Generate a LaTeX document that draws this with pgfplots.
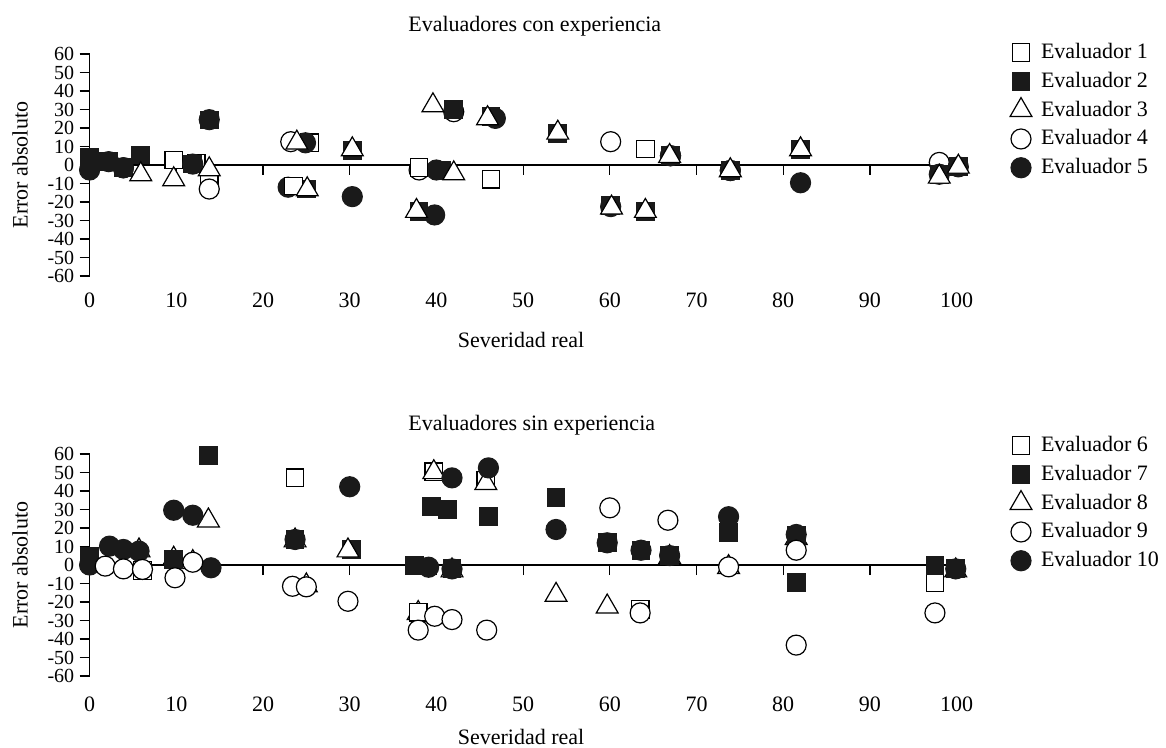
\documentclass[border=0pt]{standalone}
\usepackage{fontspec}
\setmainfont{Liberation Serif}
\usepackage{pgfplots}
\pgfplotsset{compat=1.18}
\definecolor{fk}{HTML}{1A1A1A}
\pgfplotsset{
  evalaxis/.style={
    scale only axis, width=433.5pt, height=111pt,
    xmin=0, xmax=100, ymin=-60, ymax=60,
    axis x line=middle, axis y line=left,
    x axis line style={-, line width=0.6pt},
    y axis line style={-, line width=0.6pt},
    tick style={black, line width=0.6pt},
    major tick length=5pt,
    tick align=outside,
    xtick={0,10,...,100},
    xticklabels={0,10,20,30,40,50,60,70,80,\raisebox{-1.5pt}{90},100},
    ytick={-60,-50,...,60},
    yticklabels={-60,-50,-40,-30,-20,-10,0,10,20,30,40,50,60},
    yticklabel style={font=\fontsize{10}{11}\selectfont, inner sep=2.5pt},
    hide obscured x ticks=false, hide obscured y ticks=false,
    clip=false,
    legend cell align=left,
    legend image code/.code={%
      \pgfpathrectangle{\pgfpoint{0pt}{-4pt}}{\pgfpoint{16pt}{8pt}}%
      \pgfusepath{use as bounding box}%
      \draw[##1] plot coordinates {(8pt,0pt)};},
    legend style={draw=none, fill=none, at={(axis description cs:1,1)}, anchor=north west,
      xshift=21pt, yshift=9.5pt, row sep=1.1pt, column sep=0pt,
      font=\fontsize{11}{13}\selectfont},
  },
  mOS/.style={only marks, mark=square*, mark size=4.4pt, mark options={fill=white, draw=black, line width=0.6pt}},
  mFS/.style={only marks, mark=square*, mark size=4.4pt, mark options={fill=fk, draw=fk, line width=0.6pt}},
  mT/.style={only marks, mark=triangle*, mark size=6.3pt, mark options={fill=white, draw=black, line width=0.6pt}},
  mOC/.style={only marks, mark=*, mark size=5pt, mark options={fill=white, draw=black, line width=0.6pt}},
  mFC/.style={only marks, mark=*, mark size=5pt, mark options={fill=fk, draw=fk, line width=0.6pt}},
}
\begin{document}
\fontsize{11}{13}\selectfont
\begin{tikzpicture}[font=\fontsize{11}{13}\selectfont]
\useasboundingbox (0,0) rectangle (583pt,-374pt);
% ---------------- top ----------------
\begin{axis}[evalaxis, at={(44.8pt,-138pt)}, anchor=south west,
  xticklabel style={yshift=-55pt}]
\addlegendimage{mOS}\addlegendentry{Evaluador 1}
\addlegendimage{mFS}\addlegendentry{Evaluador 2}
\addlegendimage{mT}\addlegendentry{Evaluador 3}
\addlegendimage{mOC}\addlegendentry{Evaluador 4}
\addlegendimage{mFC}\addlegendentry{Evaluador 5}
% Evaluador 1
\addplot[mOS, forget plot] coordinates {(0,3) (2.2,2) (3.9,-1.5) (5.9,5) (9.7,2.7) (12.3,1) (13.8,-10)
  (25.4,12) (30.3,8) (46.3,-7.7) (54,17) (64.1,8.6) (67,5) (82,8.5) (100.2,-1)};
% Evaluador 4
\addplot[mOC, forget plot] coordinates {(13.8,-13) (23.2,12.6) (38.0,-2.7) (42.0,28.8) (60.1,12.6) (98.0,1.4)
  (3.9,-1.5) (67,5) (73.9,-3)};
% Evaluador 2
\addplot[mFS, forget plot] coordinates {(0,4) (2.2,2) (3.9,-1.5) (5.9,5.4) (11.9,0.5) (13.8,24.3) (25.0,-13)
  (30.3,8) (38.0,-25.2) (40.6,-3) (42.0,30.1) (46.3,26) (54.0,17) (60.1,-22) (64.1,-25) (67.0,5)
  (73.9,-3) (82.0,8.5) (98.0,-5) (100.2,-1)};
% Evaluador 5
\addplot[mFC, forget plot] coordinates {(0,-2.7) (2.2,1.8) (3.9,-1.5) (11.9,0.5) (13.8,24.5) (22.9,-12)
  (24.9,12) (30.3,-17.1) (39.8,-27) (40.0,-2.7) (46.8,25.2) (60.1,-22.5) (67,5) (73.9,-3) (82.0,-9.6)
  (98,-5) (100.2,-1)};
% Evaluador 1 (front)
\addplot[mOS, forget plot] coordinates {(23.5,-11.4) (38.0,-1.4)};
% Evaluador 3
\addplot[mT, forget plot] coordinates {(5.9,-5.1) (9.7,-7.8) (13.8,-2.4) (23.9,12) (25.1,-13.2) (30.3,8.4)
  (37.7,-24.9) (39.6,32.2) (42.0,-4.6) (45.9,25.2) (54.0,17.4) (60.2,-23.1) (64.1,-24.9) (66.9,4.8)
  (73.9,-2.9) (82.0,8.4) (98.0,-6.4) (100.2,-1)};
\node[anchor=west] at (axis description cs:0,1) [xshift=155.5pt, yshift=14pt] {Evaluadores con experiencia};
\node[rotate=90] at (axis description cs:0,0.5) [yshift=34.8pt] {Error absoluto};
\node at (axis description cs:0.5,0) [yshift=-32pt, xshift=-1pt] {Severidad real};
\end{axis}
% ---------------- bottom ----------------
\begin{axis}[evalaxis, at={(44.8pt,-338pt)}, anchor=south west,
  xticklabel style={yshift=-57pt},
  legend style={yshift=3.5pt}]
\addlegendimage{mOS}\addlegendentry{Evaluador 6}
\addlegendimage{mFS}\addlegendentry{Evaluador 7}
\addlegendimage{mT}\addlegendentry{Evaluador 8}
\addlegendimage{mOC}\addlegendentry{Evaluador 9}
\addlegendimage{mFC}\addlegendentry{Evaluador 10}
% Evaluador 6
\addplot[mOS, forget plot] coordinates {(6.1,-3) (23.7,47.1) (39.7,50.4) (45.7,45.7) (63.5,-24) (97.5,-9.6)};
% Evaluador 8
\addplot[mT, forget plot] coordinates {(5.7,7.8) (9.7,3.3) (11.9,1.5) (13.7,24) (23.7,13.2) (25.0,-11.1)
  (37.9,-26) (39.7,50.1) (41.8,-3) (45.7,44.2) (53.8,-16.2) (59.7,-22.5) (66.9,4.2) (73.7,-1.2)
  (81.5,14.5) (99.9,-3)};
% Evaluador 6 (front)
\addplot[mOS, forget plot] coordinates {(37.9,-25.5)};
% Evaluador 7
\addplot[mFS, forget plot] coordinates {(0,4.8) (9.7,3) (13.7,59.2) (23.7,13.8) (30.2,8.4) (37.5,-0.3)
  (39.4,31.8) (41.3,30.0) (41.8,-2.1) (46.0,26.1) (53.8,36.6) (59.7,12) (63.6,8.0) (66.9,5.1)
  (73.7,17.7) (81.5,15.9) (81.5,-9.6) (97.5,-0.3) (99.9,-2.1)};
% Evaluador 8 (front)
\addplot[mT, forget plot] coordinates {(29.8,7.8)};
% Evaluador 10
\addplot[mFC, forget plot] coordinates {(0,0) (2.3,10.2) (3.9,8.4) (5.7,7.5) (9.7,29.6) (11.9,26.9) (14.0,-1.5)
  (23.7,13.8) (30.0,42.3) (39.1,-1.2) (41.8,47.1) (41.8,-2.1) (46.0,52.5) (53.8,19.2) (59.7,12)
  (63.6,8) (66.9,5.1) (73.7,26.1) (81.5,16.5) (99.9,-2.1)};
% Evaluador 9
\addplot[mOC, forget plot] coordinates {(1.8,-0.6) (3.9,-2.1) (6.1,-2.4) (9.85,-6.9) (11.9,1.5) (23.4,-11.5)
  (25.0,-11.8) (29.8,-19.6) (37.9,-35.2) (39.8,-27.7) (41.8,-29.5) (45.8,-35.2) (60.0,30.9) (63.5,-25.9)
  (66.7,24.2) (73.7,-1.0) (81.5,8.0) (81.5,-43.3) (97.5,-25.9)};
\node[anchor=west] at (axis description cs:0,1) [xshift=155.5pt, yshift=14.6pt] {Evaluadores sin experiencia};
\node[rotate=90] at (axis description cs:0,0.5) [yshift=34.8pt] {Error absoluto};
\node at (axis description cs:0.5,0) [yshift=-30.5pt, xshift=-1pt] {Severidad real};
\end{axis}
\end{tikzpicture}
\end{document}
